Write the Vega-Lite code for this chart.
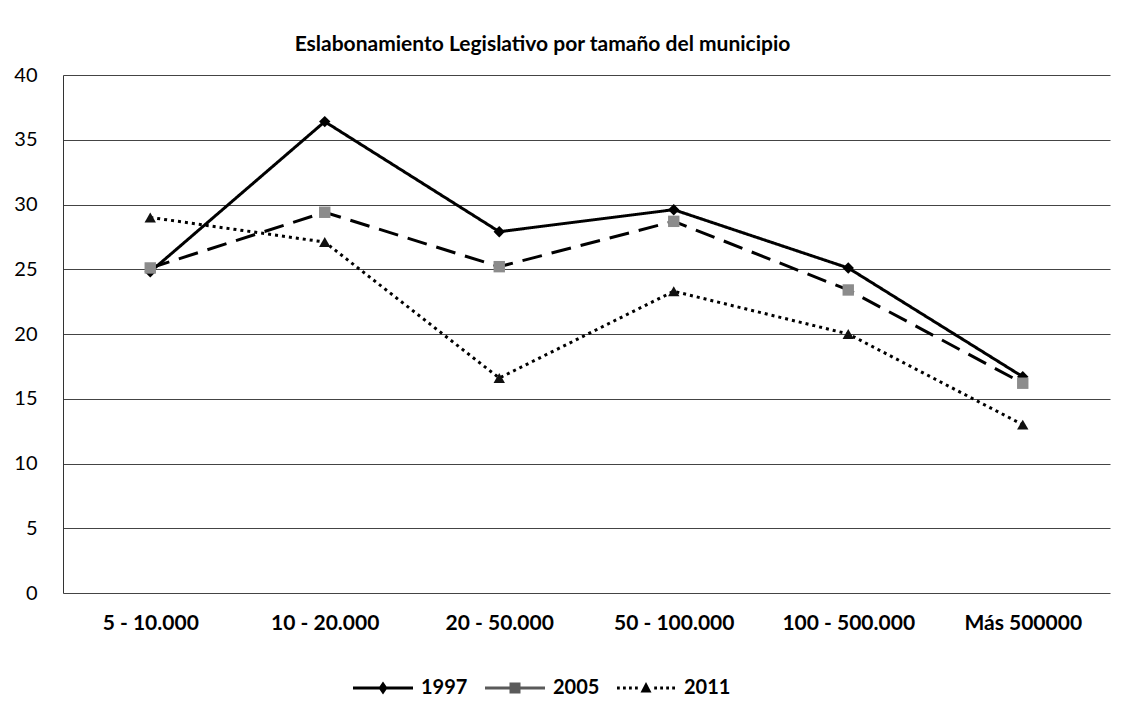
{
  "$schema": "https://vega.github.io/schema/vega-lite/v6.json",
  "width": 1047,
  "height": 518,
  "autosize": {"type": "none"},
  "padding": {"left": 63, "top": 75, "right": 19, "bottom": 124},
  "background": "white",
  "config": {"font": "Lato", "view": {"stroke": null}},
  "title": {
    "text": "Eslabonamiento Legislativo por tamaño del municipio",
    "fontSize": 21,
    "fontWeight": "bold",
    "font": "Lato",
    "color": "#000",
    "anchor": "middle",
    "frame": "group",
    "dx": -44,
    "offset": 10
  },
  "data": {
    "values": [
      {"tamano": "5 - 10.000", "anio": "1997", "valor": 24.8},
      {"tamano": "10 - 20.000", "anio": "1997", "valor": 36.4},
      {"tamano": "20 - 50.000", "anio": "1997", "valor": 27.9},
      {"tamano": "50 - 100.000", "anio": "1997", "valor": 29.6},
      {"tamano": "100 - 500.000", "anio": "1997", "valor": 25.1},
      {"tamano": "Más 500000", "anio": "1997", "valor": 16.7},
      {"tamano": "5 - 10.000", "anio": "2005", "valor": 25.1},
      {"tamano": "10 - 20.000", "anio": "2005", "valor": 29.4},
      {"tamano": "20 - 50.000", "anio": "2005", "valor": 25.2},
      {"tamano": "50 - 100.000", "anio": "2005", "valor": 28.7},
      {"tamano": "100 - 500.000", "anio": "2005", "valor": 23.4},
      {"tamano": "Más 500000", "anio": "2005", "valor": 16.2},
      {"tamano": "5 - 10.000", "anio": "2011", "valor": 29.0},
      {"tamano": "10 - 20.000", "anio": "2011", "valor": 27.1},
      {"tamano": "20 - 50.000", "anio": "2011", "valor": 16.6},
      {"tamano": "50 - 100.000", "anio": "2011", "valor": 23.3},
      {"tamano": "100 - 500.000", "anio": "2011", "valor": 20.0},
      {"tamano": "Más 500000", "anio": "2011", "valor": 13.0}
    ]
  },
  "encoding": {
    "x": {
      "field": "tamano",
      "type": "nominal",
      "sort": ["5 - 10.000", "10 - 20.000", "20 - 50.000", "50 - 100.000", "100 - 500.000", "Más 500000"],
      "scale": {"type": "point", "padding": 0.5},
      "axis": {
        "title": null,
        "labelAngle": 0,
        "labelFontSize": 21,
        "labelFontWeight": "bold",
        "labelColor": "#000",
        "labelPadding": 19,
        "ticks": false,
        "domain": false,
        "grid": false
      }
    },
    "y": {
      "field": "valor",
      "type": "quantitative",
      "scale": {"domain": [0, 40], "nice": false},
      "axis": {
        "title": null,
        "values": [0, 5, 10, 15, 20, 25, 30, 35, 40],
        "labelFontSize": 20,
        "labelColor": "#000",
        "labelPadding": 26,
        "ticks": false,
        "domain": true,
        "domainColor": "#333",
        "domainWidth": 1,
        "grid": true,
        "gridColor": "#444",
        "gridWidth": 1,
        "gridOpacity": 1
      }
    }
  },
  "layer": [
    {
      "mark": {"type": "point", "filled": true, "size": 1, "opacity": 1},
      "encoding": {
        "shape": {
          "field": "anio",
          "type": "nominal",
          "scale": {
            "domain": ["1997", "2005", "2011"],
            "range": [
              "M-3,-0.15L3,-0.15L3,0.15L-3,0.15ZM0,-0.65L0.45,0L0,0.65L-0.45,0Z",
              "M-3,-0.15L3,-0.15L3,0.15L-3,0.15ZM-0.55,-0.55L0.55,-0.55L0.55,0.55L-0.55,0.55Z",
              "M-2.9,-0.14L-2.62,-0.14L-2.62,0.14L-2.9,0.14ZM-2.3,-0.14L-2.02,-0.14L-2.02,0.14L-2.3,0.14ZM-1.7,-0.14L-1.42,-0.14L-1.42,0.14L-1.7,0.14ZM-1.1,-0.14L-0.82,-0.14L-0.82,0.14L-1.1,0.14ZM0,-0.6L0.55,0.45L-0.55,0.45ZM0.82,-0.14L1.1,-0.14L1.1,0.14L0.82,0.14ZM1.42,-0.14L1.7,-0.14L1.7,0.14L1.42,0.14ZM2.02,-0.14L2.3,-0.14L2.3,0.14L2.02,0.14ZM2.62,-0.14L2.9,-0.14L2.9,0.14L2.62,0.14Z"
            ]
          },
          "legend": {
            "title": null,
            "orient": "none",
            "direction": "horizontal",
            "legendX": 309,
            "legendY": 602,
            "symbolSize": 400,
            "symbolOpacity": 1,
            "labelOffset": 27,
            "columnPadding": 14,
            "labelFontSize": 20,
            "labelFontWeight": "bold",
            "labelColor": "#000"
          }
        },
        "color": {
          "field": "anio",
          "type": "nominal",
          "scale": {"domain": ["1997", "2005", "2011"], "range": ["#000000", "#5a5a5a", "#000000"]},
          "legend": {
            "title": null,
            "orient": "none",
            "direction": "horizontal",
            "legendX": 309,
            "legendY": 602,
            "symbolSize": 400,
            "symbolOpacity": 1,
            "labelOffset": 27,
            "columnPadding": 14,
            "labelFontSize": 20,
            "labelFontWeight": "bold",
            "labelColor": "#000"
          }
        }
      }
    },
    {
      "mark": {"type": "line", "color": "#000", "strokeWidth": 3},
      "encoding": {
        "strokeDash": {
          "field": "anio",
          "type": "nominal",
          "scale": {"domain": ["1997", "2005", "2011"], "range": [[1, 0], [20, 10], [3, 4]]},
          "legend": null
        }
      }
    },
    {
      "transform": [{"filter": "datum.anio === '1997'"}],
      "mark": {"type": "point", "filled": true, "size": 130, "opacity": 1, "shape": "diamond", "color": "#000"}
    },
    {
      "transform": [{"filter": "datum.anio === '2005'"}],
      "mark": {"type": "point", "filled": true, "size": 130, "opacity": 1, "shape": "square", "color": "#8c8c8c"}
    },
    {
      "transform": [{"filter": "datum.anio === '2011'"}],
      "mark": {"type": "point", "filled": true, "size": 130, "opacity": 1, "shape": "triangle-up", "color": "#111"}
    }
  ]
}
